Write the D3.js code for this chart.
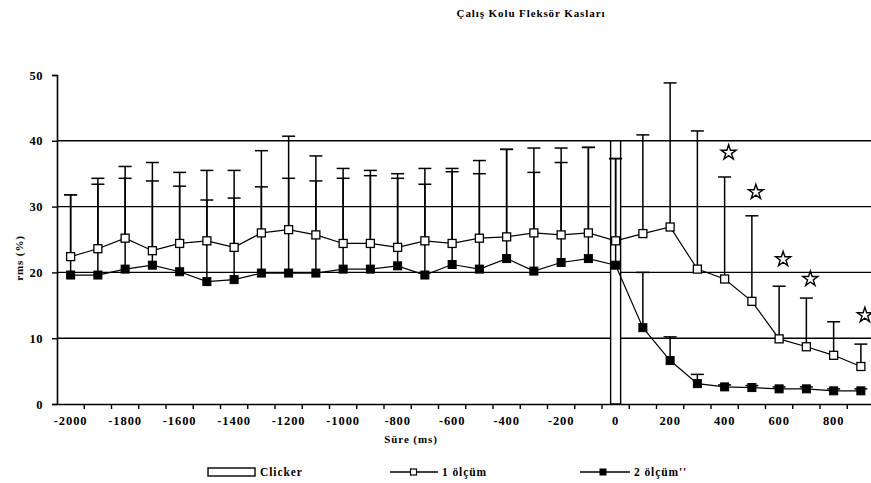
<!DOCTYPE html>
<html>
<head>
<meta charset="utf-8">
<script src="https://cdn.jsdelivr.net/npm/d3@7/dist/d3.min.js"></script>
<style>
  html, body { margin: 0; padding: 0; background: #fff; }
  svg { display: block; overflow: hidden; }
</style>
</head>
<body>
<svg id="chart" width="871" height="483"></svg>
<script>
// Time points (ms) relative to the click
const categories = [-2000, -1900, -1800, -1700, -1600, -1500, -1400, -1300, -1200, -1100,
  -1000, -900, -800, -700, -600, -500, -400, -300, -200, -100,
  0, 100, 200, 300, 400, 500, 600, 700, 800, 900];

// Series 1: mean rms (%) and + SD
const series1 = [22.4, 23.6, 25.2, 23.3, 24.4, 24.8, 23.8, 26.0, 26.5, 25.7,
  24.4, 24.4, 23.8, 24.8, 24.4, 25.2, 25.4, 26.0, 25.7, 26.0,
  24.8, 25.9, 26.9, 20.5, 19.0, 15.6, 9.9, 8.7, 7.4, 5.7];
const series1Sd = [9.4, 10.7, 10.9, 13.4, 10.8, 10.7, 11.7, 12.5, 14.2, 12.0,
  11.4, 11.1, 11.2, 11.0, 11.4, 11.8, 13.3, 12.9, 13.2, 13.0,
  12.5, 15.0, 21.9, 21.0, 15.5, 13.0, 8.0, 7.4, 5.1, 3.4];

// Series 2: mean rms (%) and + SD
const series2 = [19.6, 19.6, 20.5, 21.1, 20.1, 18.6, 18.9, 19.9, 19.9, 19.9,
  20.5, 20.5, 21.0, 19.6, 21.2, 20.5, 22.1, 20.2, 21.5, 22.1,
  21.1, 11.6, 6.6, 3.1, 2.6, 2.5, 2.3, 2.3, 2.0, 2.0];
const series2Sd = [12.2, 13.8, 13.8, 12.8, 13.0, 12.4, 12.4, 13.1, 14.4, 14.0,
  13.8, 14.2, 13.3, 13.8, 14.1, 14.5, 16.6, 15.0, 15.2, 16.9,
  16.2, 8.4, 3.6, 1.4, 0.3, 0.3, 0.3, 0.3, 0.3, 0.3];

// Click marker column
const clickCategories = [0];
const clickValues = [40];

// Significance stars
const starCategories = [400, 500, 600, 700, 900];
const starValues = [38.2, 32.2, 22.0, 19.0, 13.5];

const yTicks = [0, 10, 20, 30, 40, 50];
const gridValues = [10, 20, 30, 40];
const xTickLabels = [-2000, -1800, -1600, -1400, -1200, -1000, -800, -600, -400, -200, 0, 200, 400, 600, 800];

const titleText = "Çalış Kolu Fleksör Kasları";
const yTitle = "rms (%)";
const xTitle = "Süre (ms)";
const legendLabels = ["Clicker", "1 ölçüm", "2 ölçüm''"];

const FONT = "'Liberation Serif', 'Times New Roman', Times, serif";

const svg = d3.select("#chart");
const plotLeft = 57, plotRight = 874.5, plotTop = 75, plotBottom = 404;

const x = d3.scaleBand().domain(categories).range([plotLeft, plotRight]).padding(0);
const y = d3.scaleLinear().domain([0, 50]).range([plotBottom, plotTop]);
const cx = d => x(d) + x.bandwidth() / 2;

function label(sel, size, spacing) {
  return sel.attr("font-family", FONT).attr("font-weight", "bold")
    .attr("font-size", size).attr("letter-spacing", spacing).attr("fill", "#000");
}

// Title
label(svg.append("text"), 11, 0.9).attr("x", 531).attr("y", 17)
  .attr("text-anchor", "middle").text(titleText);

// Horizontal gridlines
svg.append("g").selectAll("line").data(gridValues).join("line")
  .attr("x1", plotLeft).attr("x2", 871)
  .attr("y1", d => y(d)).attr("y2", d => y(d))
  .attr("stroke", "#000").attr("stroke-width", 1.4);

// Click column
svg.append("g").selectAll("rect").data(clickCategories).join("rect")
  .attr("x", d => cx(d) - 5).attr("width", 10)
  .attr("y", (d, i) => y(clickValues[i]))
  .attr("height", (d, i) => plotBottom - y(clickValues[i]))
  .attr("fill", "#fff").attr("stroke", "#000").attr("stroke-width", 1.4);

// Y axis
const yAxis = d3.axisLeft(y).tickValues(yTicks).tickSize(5).tickPadding(9).tickFormat(d3.format("d"));
const gy = svg.append("g").attr("transform", `translate(${plotLeft},0)`).call(yAxis);
gy.select(".domain").attr("stroke-width", 1.6);
gy.selectAll(".tick line").attr("stroke-width", 1.4);
label(gy.selectAll(".tick text"), 12.5, 0.5);

// X axis
const xAxis = d3.axisBottom(x).tickSize(0).tickPadding(12)
  .tickValues(xTickLabels).tickFormat(d => String(d));
const gx = svg.append("g").attr("transform", `translate(0,${plotBottom})`).call(xAxis);
gx.select(".domain").attr("stroke-width", 1.6);
label(gx.selectAll(".tick text"), 12.5, 0.9);
// tick marks at category boundaries
gx.append("g").selectAll("line").data(categories).join("line")
  .attr("x1", (d, i) => plotLeft + (i + 1) * x.bandwidth())
  .attr("x2", (d, i) => plotLeft + (i + 1) * x.bandwidth())
  .attr("y1", 0).attr("y2", 5).attr("stroke", "#000").attr("stroke-width", 1.4);

// Axis titles
label(svg.append("text"), 11, 0.9).attr("x", 411).attr("y", 443)
  .attr("text-anchor", "middle").text(xTitle);
label(svg.append("text"), 11, 0.9).attr("transform", "translate(23,258) rotate(-90)")
  .attr("text-anchor", "middle").text(yTitle);

// Error bars (plus direction)
function errorBars(vals, sds) {
  const g = svg.append("g").attr("stroke", "#000").attr("stroke-width", 1.5);
  g.selectAll("line.stem").data(categories).join("line").attr("class", "stem")
    .attr("x1", d => cx(d)).attr("x2", d => cx(d))
    .attr("y1", (d, i) => y(vals[i])).attr("y2", (d, i) => y(vals[i] + sds[i]));
  g.selectAll("line.cap").data(categories).join("line").attr("class", "cap")
    .attr("x1", d => cx(d) - 6.5).attr("x2", d => cx(d) + 6.5)
    .attr("y1", (d, i) => y(vals[i] + sds[i])).attr("y2", (d, i) => y(vals[i] + sds[i]));
}
errorBars(series2, series2Sd);
errorBars(series1, series1Sd);

// Series lines
const line = d3.line().x(d => cx(d[0])).y(d => y(d[1]));
[series2, series1].forEach(vals => {
  svg.append("path").datum(categories.map((c, i) => [c, vals[i]]))
    .attr("d", line).attr("fill", "none").attr("stroke", "#000").attr("stroke-width", 1.2);
});

// Markers
const ms = 8;
svg.append("g").selectAll("rect").data(categories).join("rect")
  .attr("x", d => cx(d) - ms / 2).attr("y", (d, i) => y(series2[i]) - ms / 2)
  .attr("width", ms).attr("height", ms).attr("fill", "#000").attr("stroke", "#000").attr("stroke-width", 1);
svg.append("g").selectAll("rect").data(categories).join("rect")
  .attr("x", d => cx(d) - ms / 2).attr("y", (d, i) => y(series1[i]) - ms / 2)
  .attr("width", ms).attr("height", ms).attr("fill", "#fff").attr("stroke", "#000").attr("stroke-width", 1.3);

// Stars
const star = d3.symbol().type(d3.symbolStar).size(70);
svg.append("g").selectAll("path").data(starCategories).join("path")
  .attr("d", star)
  .attr("transform", (d, i) => `translate(${cx(d) + 4},${y(starValues[i])})`)
  .attr("fill", "#fff").attr("stroke", "#000").attr("stroke-width", 1.4);

// Legend
const lg = svg.append("g");
lg.append("rect").attr("x", 208).attr("y", 468).attr("width", 47).attr("height", 8)
  .attr("fill", "#fff").attr("stroke", "#000").attr("stroke-width", 1.4);
label(lg.append("text"), 11.5, 0.9).attr("x", 260).attr("y", 476).text(legendLabels[0]);

lg.append("line").attr("x1", 390).attr("x2", 438).attr("y1", 472).attr("y2", 472)
  .attr("stroke", "#000").attr("stroke-width", 1.4);
lg.append("rect").attr("x", 410.5).attr("y", 469).attr("width", 6).attr("height", 6)
  .attr("fill", "#fff").attr("stroke", "#000").attr("stroke-width", 1.2);
label(lg.append("text"), 11.5, 0.9).attr("x", 442).attr("y", 476).text(legendLabels[1]);

lg.append("line").attr("x1", 580).attr("x2", 630).attr("y1", 472).attr("y2", 472)
  .attr("stroke", "#000").attr("stroke-width", 1.4);
lg.append("rect").attr("x", 600).attr("y", 469).attr("width", 6).attr("height", 6)
  .attr("fill", "#000").attr("stroke", "#000").attr("stroke-width", 1);
label(lg.append("text"), 11.5, 0.9).attr("x", 634).attr("y", 476).text(legendLabels[2]);
</script>
</body>
</html>
